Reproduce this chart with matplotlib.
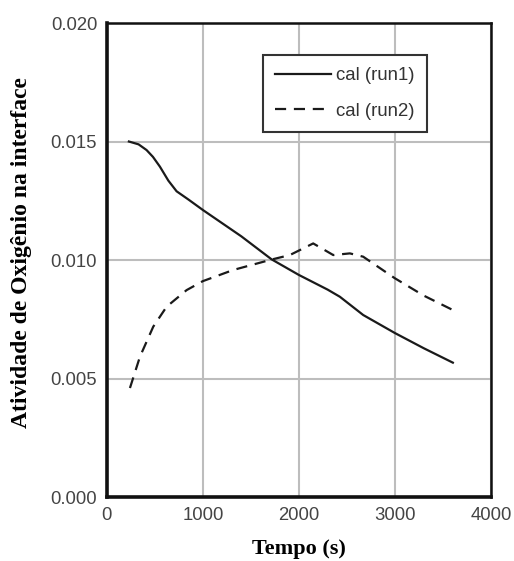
import numpy as np
import matplotlib
matplotlib.use("Agg")
import matplotlib.pyplot as plt

# valores
tempo1 = [229, 330, 413, 480, 552, 640, 726, 850, 1000, 1400, 1715, 2000, 2300, 2427, 2670, 3000, 3300, 3604]
run1 = [0.0150, 0.01488, 0.01464, 0.01435, 0.01394, 0.01335, 0.01290, 0.01255, 0.01211, 0.01100, 0.01003, 0.00937, 0.00875, 0.00845, 0.00768, 0.00692, 0.00628, 0.00567]

tempo2 = [240, 344, 483, 622, 830, 1000, 1316, 1715, 1906, 2149, 2358, 2531, 2670, 3000, 3300, 3604]
run2 = [0.0046, 0.00592, 0.00719, 0.00803, 0.00873, 0.00911, 0.00958, 0.01002, 0.01021, 0.01070, 0.01021, 0.01028, 0.01014, 0.00923, 0.00850, 0.00789]

xticks = [0, 1000, 2000, 3000, 4000]
yticks = [0.000, 0.005, 0.010, 0.015, 0.020]

fig = plt.figure(figsize=(5.14, 5.61), dpi=100)
ax = fig.add_axes([0.208, 0.114, 0.747, 0.845])

ax.plot(tempo1, run1, color='#1a1a1a', lw=1.6, label='cal (run1)')
ax.plot(tempo2, run2, color='#1a1a1a', lw=1.6, ls=(0, (5, 3.5)), label='cal (run2)')

ax.set_xlim(0, 4000)
ax.set_ylim(0, 0.020)
ax.set_xticks(xticks)
ax.set_yticks(yticks)
ax.set_yticklabels(['%.3f' % v for v in yticks])
ax.grid(True, color='#bdbdbd', lw=1.5)
ax.set_axisbelow(True)
ax.tick_params(length=0, pad=7, labelsize=13.3, labelcolor='#444444')
for lab in ax.get_xticklabels() + ax.get_yticklabels():
    lab.set_family('Liberation Sans')

for s in ['top', 'right']:
    ax.spines[s].set_linewidth(1.8)
for s in ['left', 'bottom']:
    ax.spines[s].set_linewidth(2.6)
for s in ax.spines.values():
    s.set_color('#111111')

ax.set_xlabel('Tempo (s)', family='Liberation Serif', fontweight='bold', fontsize=16)
ax.set_ylabel('Atividade de Oxigênio na interface', family='Liberation Serif', fontweight='bold', fontsize=17)
ax.xaxis.set_label_coords(0.5, -0.088)
ax.yaxis.set_label_coords(-0.195, 0.515)

leg = ax.legend(loc='upper left', bbox_to_anchor=(0.406, 0.932), fancybox=False,
                edgecolor='#333333', framealpha=1, handlelength=3.0, handletextpad=0.3,
                labelspacing=1.0, borderpad=0.65, borderaxespad=0,
                prop={'family': 'Liberation Sans', 'size': 13.4})
leg.get_frame().set_linewidth(1.5)
for t in leg.get_texts():
    t.set_color('#333333')

fig.savefig('out.png', dpi=100)
